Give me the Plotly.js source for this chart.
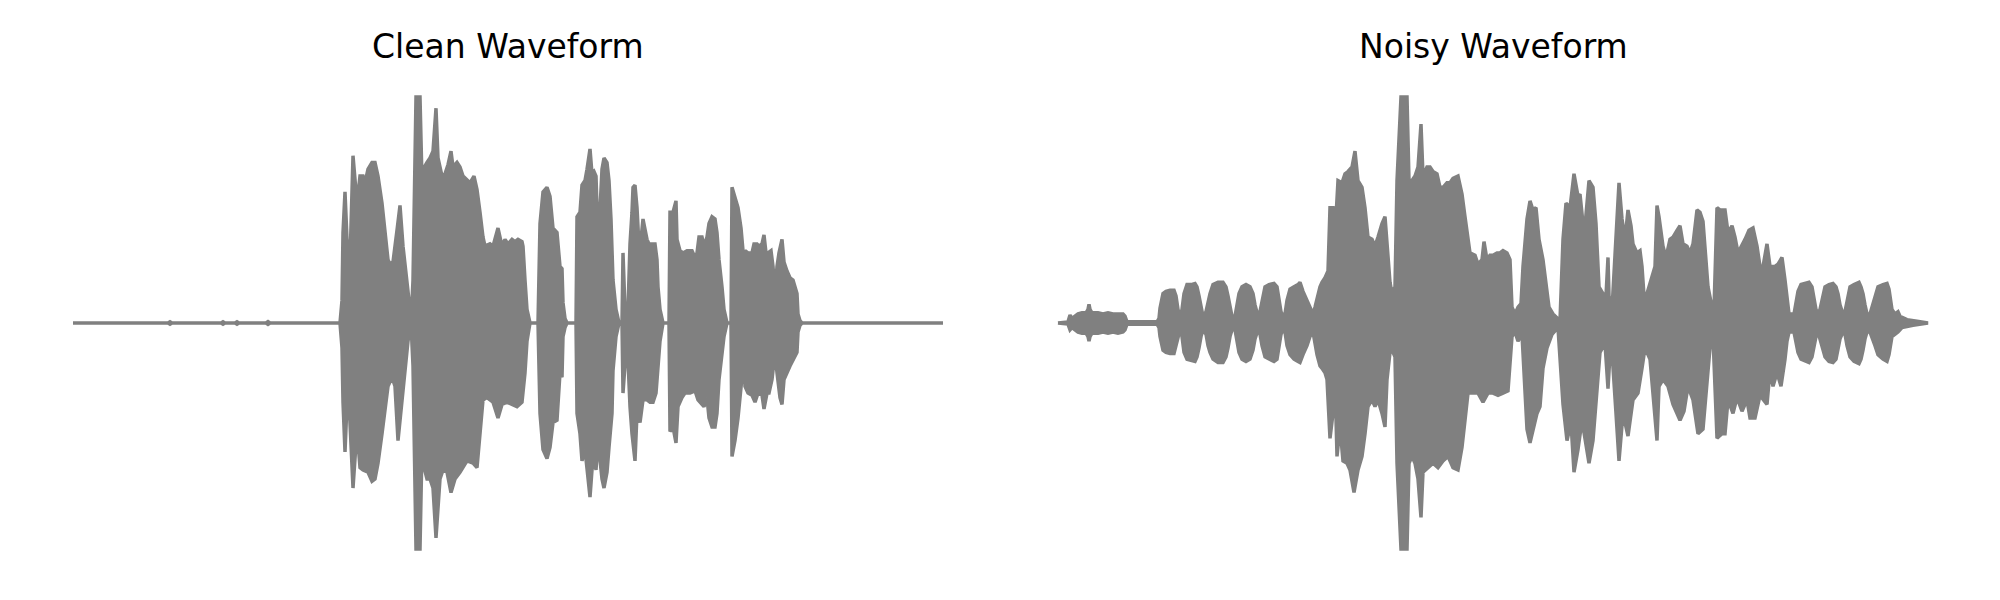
<!DOCTYPE html>
<html>
<head>
<meta charset="utf-8">
<script src="https://cdn.plot.ly/plotly-3.0.1.min.js"></script>
<style>html,body{margin:0;padding:0;background:#fff;}#chart{width:2000px;height:600px;}</style>
</head>
<body>
<div id="chart"></div>
<script>
// Envelope of each waveform: frame index and normalized amplitude.
var titles = ["Clean Waveform", "Noisy Waveform"];

var cleanTopFrames = [0,95,97,99,148,150,152,162,164,166,193,195,197,267,269,270,272,274,277,280,284,287,290,292,295,299,302,305,309,312,315,317,320,324,327,330,334,337,338,340,343,347,349,350,354,357,360,363,365,369,372,375,378,380,384,387,390,394,397,401,404,407,410,412,417,420,425,429,432,435,439,442,445,449,450,452,454,457,465,467,470,474,477,480,484,487,489,490,492,494,503,504,507,509,512,514,517,519,521,523,524,527,529,531,534,536,538,540,543,546,549,550,552,555,557,559,560,562,564,566,568,570,572,574,576,579,582,584,585,587,590,596,597,600,603,604,607,610,614,619,622,624,626,629,631,634,636,639,642,644,646,649,651,654,658,659,662,665,668,670,671,672,675,679,681,684,686,689,691,693,695,698,700,702,704,706,709,711,714,717,720,724,725,727,729,870];
var cleanTop = [0,0,0.005,0,0,0.005,0,0,0.005,0,0,0.006,0,0,0.10,0.40,0.58,0.37,0.27,0.74,0.53,0.65,0.65,0.62,0.68,0.71,0.71,0.65,0.53,0.40,0.28,0.26,0.27,0.41,0.52,0.34,0.19,0.06,0,0.19,1.0,1.0,0.63,0.68,0.71,0.73,0.76,0.95,0.73,0.65,0.66,0.70,0.76,0.69,0.71,0.69,0.65,0.63,0.62,0.65,0.59,0.49,0.38,0.34,0.35,0.34,0.42,0.34,0.37,0.35,0.37,0.36,0.37,0.36,0.34,0.19,0.06,0,0,0.44,0.58,0.60,0.56,0.42,0.40,0.25,0.24,0.09,0.02,0,0,0.47,0.49,0.61,0.63,0.68,0.77,0.66,0.67,0.65,0.51,0.50,0.68,0.73,0.71,0.63,0.46,0.19,0.06,0,0,0.31,0.06,0.06,0.35,0.49,0.60,0.61,0.51,0.34,0.37,0.46,0.42,0.37,0.35,0.35,0.35,0.28,0.16,0.06,0,0,0.49,0.49,0.54,0.37,0.32,0.31,0.32,0.32,0.29,0.31,0.38,0.38,0.34,0.38,0.44,0.47,0.46,0.40,0.28,0.16,0.06,0,0,0.60,0.56,0.51,0.42,0.32,0.19,0.32,0.31,0.31,0.35,0.35,0.34,0.35,0.39,0.31,0.31,0.32,0.25,0.13,0.25,0.31,0.37,0.27,0.23,0.20,0.19,0.13,0.04,0.01,0,0];

var cleanLowFrames = [0,95,97,99,148,150,152,162,164,166,193,195,197,267,269,270,272,275,280,284,287,290,295,299,302,305,309,312,315,319,322,325,329,332,335,338,340,343,347,349,350,354,357,360,363,367,370,374,378,382,387,394,400,404,407,410,414,420,425,429,434,439,444,449,452,454,457,465,467,470,474,477,480,484,487,489,490,492,494,503,504,507,509,512,514,517,519,521,523,525,529,531,534,536,539,540,543,546,549,550,554,557,559,562,564,567,570,574,577,580,583,585,587,590,596,597,600,603,605,609,612,617,622,625,629,631,634,636,639,642,644,646,649,651,654,658,659,662,665,669,671,672,675,679,682,685,689,691,694,696,699,702,704,707,709,711,714,717,720,724,725,727,729,870];
var cleanLow = [0,0,-0.005,0,0,-0.005,0,0,-0.005,0,0,-0.006,0,0,-0.11,-0.35,-0.57,-0.25,-0.73,-0.47,-0.64,-0.65,-0.66,-0.70,-0.69,-0.62,-0.49,-0.40,-0.28,-0.24,-0.28,-0.52,-0.34,-0.22,-0.08,0,-0.19,-1.0,-1.0,-0.55,-0.62,-0.69,-0.69,-0.73,-0.95,-0.69,-0.65,-0.66,-0.75,-0.69,-0.66,-0.61,-0.62,-0.64,-0.49,-0.34,-0.33,-0.35,-0.42,-0.36,-0.35,-0.36,-0.37,-0.35,-0.22,-0.08,0,0,-0.40,-0.56,-0.60,-0.55,-0.44,-0.43,-0.22,-0.24,-0.06,-0.02,0,0,-0.40,-0.49,-0.61,-0.56,-0.66,-0.77,-0.65,-0.58,-0.65,-0.52,-0.69,-0.73,-0.66,-0.55,-0.40,-0.21,-0.06,0,0,-0.31,-0.06,-0.37,-0.49,-0.61,-0.40,-0.44,-0.34,-0.34,-0.35,-0.35,-0.31,-0.19,-0.08,0,0,-0.48,-0.46,-0.53,-0.37,-0.33,-0.31,-0.31,-0.30,-0.34,-0.36,-0.37,-0.33,-0.42,-0.46,-0.46,-0.40,-0.25,-0.15,-0.06,0,0,-0.59,-0.52,-0.42,-0.25,-0.15,-0.28,-0.31,-0.32,-0.35,-0.31,-0.32,-0.38,-0.31,-0.31,-0.25,-0.13,-0.22,-0.33,-0.36,-0.25,-0.22,-0.19,-0.16,-0.13,-0.04,-0.01,0,0];

// Noisy waveform envelope as [frame, amplitude] pairs.
var noisyUpper = [
  [0,0],[10,0.005],[12,0.035],[14,0.02],[17,0.03],[20,0.04],[24,0.045],[28,0.045],[30,0.06],[31,0.083],[32,0.06],[34,0.045],[40,0.045],[45,0.04],[50,0.045],[55,0.04],[60,0.04],[65,0.04],[67,0.03],[69,0.005],[99,0.005],
  [101,0.02],[102,0.065],[105,0.13],[108,0.14],[112,0.145],[116,0.145],[118,0.12],[120,0.06],[122,0.03],
  [124,0.06],[126,0.13],[129,0.17],[133,0.17],[137,0.175],[139,0.16],[141,0.12],[143,0.07],[145,0.03],
  [148,0.05],[150,0.10],[152,0.13],[155,0.17],[160,0.18],[165,0.18],[168,0.16],[170,0.12],[172,0.07],[174,0.03],
  [177,0.03],[179,0.08],[181,0.13],[184,0.16],[188,0.17],[192,0.16],[195,0.13],[197,0.08],[200,0.03],
  [202,0.05],[204,0.10],[207,0.16],[211,0.17],[216,0.175],[219,0.16],[221,0.10],[223,0.05],[225,0.03],
  [227,0.04],[229,0.10],[232,0.15],[236,0.16],[240,0.17],[242,0.18],[245,0.14],[249,0.10],[252,0.07],[255,0.04],
  [257,0.07],[259,0.11],[262,0.16],[264,0.18],[267,0.20],[270,0.23],
  [272,0.51],[275,0.51],[276,0.31],[280,0.63],[284,0.62],[287,0.66],[290,0.67],[294,0.69],[297,0.76],[300,0.63],[304,0.60],[307,0.51],[310,0.38],[314,0.37],[317,0.34],[320,0.38],[324,0.44],[327,0.47],[329,0.34],[332,0.18],[334,0.13],[337,0.16],[339,0.63],
  [343,1.0],[349,1.0],[351,0.63],[354,0.63],[357,0.65],[360,0.69],[363,0.88],[365,0.65],[369,0.69],[372,0.69],[375,0.67],[379,0.66],[382,0.60],[385,0.60],[389,0.62],[392,0.62],[395,0.64],[400,0.65],[404,0.57],[407,0.47],[409,0.41],[412,0.31],[417,0.30],[420,0.26],[424,0.28],[426,0.36],[429,0.28],[432,0.30],[435,0.30],[439,0.31],[442,0.31],[445,0.32],[449,0.31],[452,0.28],
  [454,0.07],[457,0.04],[460,0.07],[463,0.085],[465,0.25],[469,0.46],[472,0.54],[475,0.50],[478,0.51],[481,0.37],[485,0.28],[488,0.18],[491,0.07],[495,0.04],[500,0.02],[502,0.01],
  [505,0.37],[508,0.53],[512,0.51],[516,0.66],[520,0.56],[522,0.57],[525,0.44],[527,0.43],[531,0.63],[535,0.60],[538,0.44],[541,0.16],[545,0.13],[548,0.12],[550,0.29],[551,0.12],[554,0.06],
  [557,0.31],[559,0.48],[561,0.62],[564,0.46],[567,0.37],[570,0.50],[573,0.43],[575,0.35],[579,0.31],[582,0.32],[584,0.25],[586,0.12],[589,0.13],[593,0.19],[597,0.25],
  [599,0.52],[601,0.47],[605,0.34],[608,0.29],[612,0.37],[615,0.38],[619,0.41],[622,0.43],[625,0.35],[629,0.34],[632,0.31],[635,0.35],[639,0.50],[642,0.49],[645,0.45],[648,0.28],[650,0.16],[654,0.07],[656,0.06],
  [659,0.51],[662,0.50],[667,0.50],[670,0.40],[674,0.43],[677,0.38],[680,0.31],[684,0.34],[687,0.37],[691,0.41],[695,0.42],[699,0.34],[703,0.22],[705,0.25],[709,0.35],[712,0.25],[717,0.25],[720,0.26],[724,0.29],
  [727,0.19],[729,0.10],[731,0.04],[736,0.04],[738,0.09],[740,0.14],[743,0.17],[748,0.175],[751,0.18],[754,0.16],[756,0.11],[758,0.06],[760,0.04],
  [762,0.06],[764,0.10],[767,0.16],[771,0.17],[775,0.175],[778,0.16],[780,0.13],[782,0.08],[785,0.04],
  [787,0.05],[789,0.10],[792,0.16],[796,0.17],[801,0.18],[803,0.16],[805,0.13],[807,0.08],[809,0.04],[812,0.04],
  [814,0.07],[817,0.12],[820,0.16],[825,0.17],[829,0.175],[831,0.15],[834,0.06],[837,0.04],[840,0.05],[842,0.03],[849,0.015],[859,0.008],[870,0]
];
var noisyLower = [
  [0,0],[10,-0.005],[12,-0.03],[14,-0.02],[17,-0.03],[20,-0.04],[24,-0.045],[28,-0.045],[30,-0.06],[31,-0.08],[32,-0.06],[34,-0.045],[40,-0.045],[45,-0.04],[50,-0.045],[55,-0.04],[60,-0.045],[65,-0.04],[67,-0.03],[69,-0.005],[99,-0.005],
  [101,-0.02],[102,-0.06],[105,-0.12],[108,-0.13],[112,-0.135],[116,-0.135],[118,-0.10],[120,-0.06],[122,-0.03],
  [124,-0.06],[126,-0.13],[129,-0.16],[133,-0.165],[137,-0.17],[139,-0.15],[141,-0.11],[143,-0.06],[145,-0.03],
  [148,-0.05],[150,-0.10],[152,-0.13],[155,-0.16],[160,-0.175],[165,-0.175],[168,-0.15],[170,-0.11],[172,-0.06],[174,-0.03],
  [177,-0.03],[179,-0.08],[181,-0.13],[184,-0.16],[188,-0.17],[192,-0.16],[195,-0.12],[197,-0.07],[200,-0.03],
  [202,-0.05],[204,-0.10],[207,-0.15],[211,-0.16],[216,-0.17],[219,-0.16],[221,-0.10],[223,-0.05],[225,-0.03],
  [227,-0.04],[229,-0.10],[232,-0.14],[236,-0.16],[240,-0.17],[242,-0.175],[245,-0.14],[249,-0.10],[252,-0.06],[255,-0.04],
  [257,-0.08],[259,-0.14],[262,-0.19],[264,-0.20],[267,-0.22],[269,-0.25],
  [272,-0.51],[275,-0.40],[277,-0.25],[279,-0.59],[282,-0.46],[285,-0.61],[289,-0.62],[292,-0.65],[296,-0.75],[300,-0.65],[304,-0.59],[307,-0.49],[310,-0.37],[314,-0.34],[317,-0.37],[320,-0.34],[324,-0.40],[327,-0.46],[329,-0.25],[332,-0.13],[334,-0.12],[337,-0.15],[339,-0.62],
  [343,-1.0],[349,-1.0],[351,-0.62],[354,-0.59],[357,-0.62],[360,-0.69],[363,-0.86],[365,-0.66],[370,-0.64],[375,-0.62],[380,-0.64],[385,-0.61],[390,-0.59],[395,-0.64],[400,-0.65],[404,-0.55],[407,-0.43],[410,-0.31],[415,-0.31],[420,-0.31],[425,-0.35],[430,-0.31],[435,-0.31],[440,-0.32],[445,-0.31],[450,-0.30],
  [454,-0.06],[457,-0.04],[460,-0.08],[464,-0.05],[466,-0.25],[469,-0.47],[472,-0.53],[475,-0.47],[479,-0.40],[482,-0.37],[485,-0.20],[489,-0.11],[494,-0.05],[500,-0.02],
  [505,-0.36],[509,-0.52],[513,-0.44],[516,-0.66],[520,-0.56],[524,-0.43],[527,-0.52],[531,-0.62],[535,-0.52],[539,-0.28],[542,-0.13],[547,-0.09],[550,-0.29],[553,-0.06],
  [558,-0.40],[561,-0.61],[565,-0.40],[570,-0.50],[575,-0.34],[580,-0.31],[584,-0.20],[587,-0.11],[592,-0.16],
  [599,-0.52],[601,-0.28],[605,-0.25],[610,-0.28],[615,-0.36],[622,-0.43],[626,-0.39],[630,-0.28],[635,-0.34],[640,-0.49],[645,-0.47],[649,-0.25],[652,-0.11],[655,-0.06],
  [659,-0.51],[664,-0.49],[667,-0.49],[670,-0.34],[675,-0.40],[679,-0.33],[684,-0.39],[689,-0.34],[692,-0.42],[697,-0.42],[702,-0.32],[709,-0.36],[712,-0.21],[715,-0.28],[719,-0.22],[723,-0.28],
  [727,-0.16],[729,-0.08],[731,-0.04],[736,-0.04],[738,-0.09],[740,-0.13],[743,-0.16],[748,-0.17],[751,-0.175],[754,-0.15],[756,-0.10],[758,-0.06],[760,-0.04],
  [762,-0.06],[764,-0.10],[767,-0.15],[771,-0.17],[775,-0.175],[778,-0.16],[780,-0.12],[782,-0.07],[785,-0.04],
  [787,-0.05],[789,-0.10],[792,-0.15],[796,-0.17],[801,-0.18],[803,-0.16],[805,-0.12],[807,-0.07],[809,-0.04],[812,-0.04],
  [814,-0.06],[817,-0.10],[820,-0.14],[825,-0.16],[829,-0.17],[831,-0.14],[834,-0.06],[837,-0.05],[840,-0.04],[844,-0.02],[855,-0.01],[870,0]
];

function envelope(topF, top, lowF, low, xa, ya) {
  return {
    type: "scatter", mode: "lines",
    x: topF.concat(lowF.slice().reverse()),
    y: top.concat(low.slice().reverse()),
    fill: "toself", fillcolor: "#808080",
    line: {color: "#808080", width: 3.5},
    xaxis: xa, yaxis: ya, hoverinfo: "skip", showlegend: false
  };
}
function col(pairs, i) { return pairs.map(function (p) { return p[i]; }); }

var data = [
  envelope(cleanTopFrames, cleanTop, cleanLowFrames, cleanLow, "x", "y"),
  envelope(col(noisyUpper, 0), col(noisyUpper, 1), col(noisyLower, 0), col(noisyLower, 1), "x2", "y2")
];

var hidden = {visible: false, fixedrange: true};
var layout = {
  width: 2000, height: 600,
  margin: {l: 0, r: 0, t: 0, b: 0},
  paper_bgcolor: "#ffffff", plot_bgcolor: "#ffffff",
  showlegend: false,
  font: {family: "DejaVu Sans", color: "#000000"},
  xaxis: Object.assign({domain: [0.01475, 0.49325], range: [-43.5, 913.5]}, hidden),
  yaxis: Object.assign({domain: [0.04833, 0.875], range: [-1.097, 1.097]}, hidden),
  xaxis2: Object.assign({domain: [0.50725, 0.98575], range: [-43.5, 913.5], anchor: "y2"}, hidden),
  yaxis2: Object.assign({domain: [0.04833, 0.875], range: [-1.097, 1.097], anchor: "x2"}, hidden),
  annotations: [
    {text: titles[0], xref: "paper", yref: "paper", x: 0.254, y: 0.923, xanchor: "center", yanchor: "middle", showarrow: false, font: {family: "DejaVu Sans", size: 33, color: "#000000"}},
    {text: titles[1], xref: "paper", yref: "paper", x: 0.7465, y: 0.923, xanchor: "center", yanchor: "middle", showarrow: false, font: {family: "DejaVu Sans", size: 33, color: "#000000"}}
  ]
};

Plotly.newPlot("chart", data, layout, {staticPlot: true, displayModeBar: false});
</script>
</body>
</html>
